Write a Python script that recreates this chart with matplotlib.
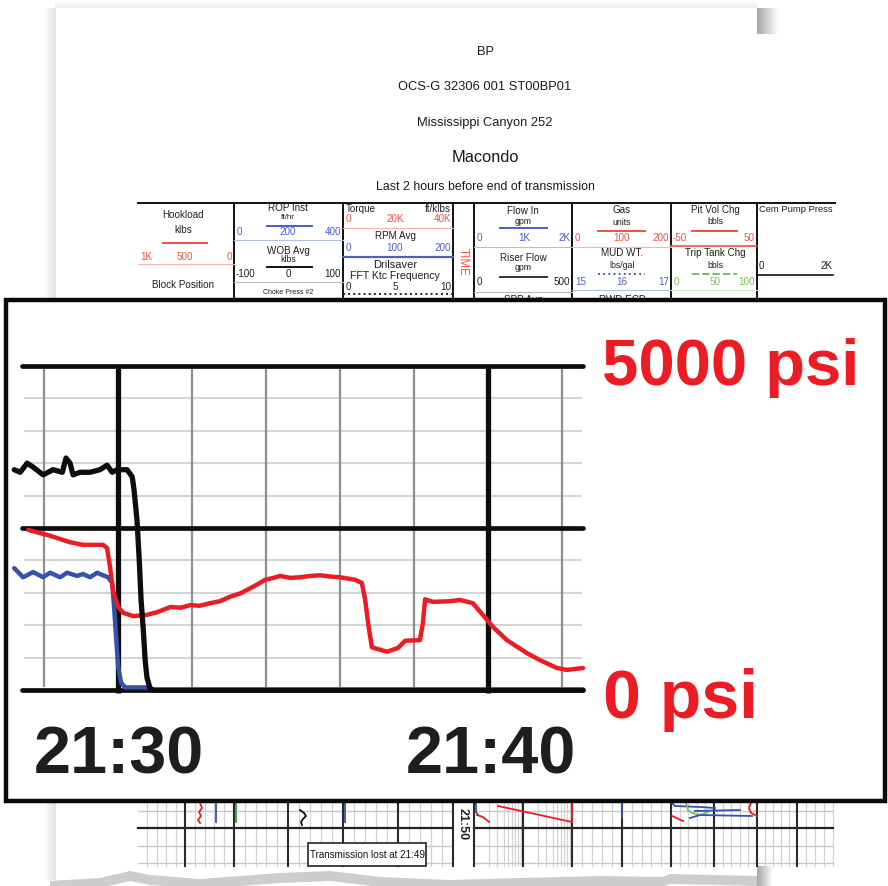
import numpy as np
import matplotlib
matplotlib.use("Agg")
import matplotlib.pyplot as plt
from matplotlib import font_manager
from matplotlib.patches import Rectangle, Polygon

W, H = 888, 886

# pressure traces (minutes after 21:30, psi)
black_t = [-2.81, -2.65, -2.46, -2.30, -2.03, -1.76, -1.51, -1.41, -1.30, -1.22,
           -1.03, -0.76, -0.49, -0.30, -0.16, -0.03, 0.24, 0.38, 0.43, 0.51,
           0.57, 0.62, 0.68, 0.73, 0.78, 0.86, 0.95, 12.57]
black_psi = [3400, 3360, 3500, 3440, 3320, 3400, 3360, 3580, 3500, 3320,
             3360, 3360, 3400, 3470, 3360, 3400, 3400, 3290, 3090, 2620,
             2010, 1390, 930, 460, 190, 30, 0, 0]

blue_t = [-2.81, -2.57, -2.30, -2.03, -1.84, -1.57, -1.38, -1.11, -0.95, -0.76,
          -0.57, -0.41, -0.27, -0.16, -0.11, -0.05, 0.00, 0.08, 0.19, 0.86]
blue_psi = [1880, 1740, 1820, 1740, 1810, 1740, 1810, 1760, 1790, 1740,
            1810, 1770, 1740, 1650, 1280, 770, 360, 110, 40, 40]

red_t = [-2.43, -1.84, -1.30, -0.95, -0.41, -0.30, -0.22, -0.14, 0.00, 0.14,
         0.41, 0.78, 1.05, 1.41, 1.70, 1.95, 2.20, 2.49, 2.75, 3.03,
         3.30, 3.57, 3.80, 3.97, 4.20, 4.38, 4.65, 4.92, 5.20, 5.46,
         5.75, 6.00, 6.20, 6.41, 6.59, 6.68, 6.76, 6.86, 7.03, 7.27,
         7.57, 7.76, 8.16, 8.24, 8.30, 8.51, 8.97, 9.24, 9.59, 9.86,
         10.14, 10.51, 11.05, 11.41, 11.86, 12.14, 12.57]
red_psi = [2470, 2380, 2280, 2240, 2240, 2190, 1900, 1540, 1280, 1190,
           1140, 1160, 1200, 1280, 1270, 1310, 1300, 1340, 1370, 1440,
           1490, 1570, 1640, 1700, 1730, 1760, 1730, 1740, 1760, 1770,
           1750, 1740, 1720, 1700, 1650, 1390, 1030, 660, 630, 590,
           650, 760, 770, 1030, 1400, 1360, 1370, 1390, 1340, 1160,
           970, 770, 570, 460, 340, 310, 340]

minute_grid = [-2, 2, 4, 6, 8, 12]
minute_major = [0, 10]
psi_minor = [500, 1000, 1500, 2000, 3000, 3500, 4000, 4500]
psi_major = [0, 2500, 5000]
time_labels = ["21:30", "21:40"]
psi_labels = ["5000 psi", "0 psi"]

RED = "#ec1c24"
BLUE = "#3553a8"
HRED = "#f0523f"
HBLUE = "#4b5fc4"
HGREEN = "#72c255"

names = {f.name for f in font_manager.fontManager.ttflist}
NARROW = "Liberation Sans Narrow" if "Liberation Sans Narrow" in names else "Liberation Sans"
SQUEEZE = 1.0 if NARROW == "Liberation Sans Narrow" else 0.84
plt.rcParams["font.family"] = ["Liberation Sans", "DejaVu Sans"]


def px_box(x0, y0, x1, y1):
    return [x0 / W, 1 - y1 / H, (x1 - x0) / W, (y1 - y0) / H]


fig = plt.figure(figsize=(8.88, 8.86), dpi=100)
page = fig.add_axes([0, 0, 1, 1])
page.axis("off")


def shade(x0, x1, y0, y1, a0, a1, horizontal=True, z=1):
    n = 40
    ramp = np.linspace(a0, a1, n)
    if horizontal:
        rgba = np.zeros((1, n, 4))
        rgba[0, :, 3] = ramp
    else:
        rgba = np.zeros((n, 1, 4))
        rgba[:, 0, 3] = ramp
    rgba[..., :3] = 0.3
    page.imshow(rgba, extent=(x0, x1, y1, y0), aspect="auto",
                interpolation="bilinear", zorder=z)


# paper edges and shadows
shade(44, 55, 8, 880, 0.0, 0.16)
shade(55, 757, 1, 8, 0.0, 0.10, horizontal=False)
shade(757, 778, 8, 34, 0.5, 0.0)
shade(757, 772, 866, 886, 0.5, 0.0)
edge_x = [50, 100, 130, 150, 200, 280, 330, 380, 450, 520, 600, 662, 670, 757]
edge_y = [881, 878, 871, 875, 879, 873, 871, 877, 880, 878, 876, 877, 874, 876]
band = list(zip(edge_x, edge_y)) + list(zip(edge_x[::-1], [y + 10 for y in edge_y[::-1]]))
page.add_patch(Polygon(band, closed=True, fc="#b8b8b8", ec="none", alpha=0.7, zorder=1))

# title block
titles = [("BP", 52, 11), ("OCS-G 32306 001 ST00BP01", 87, 11),
          ("Mississippi Canyon 252", 123, 11), ("Macondo", 157, 14),
          ("Last 2 hours before end of transmission", 187, 10.6)]
for txt, y, s in titles:
    page.text(485, y, txt, ha="center", va="center", fontsize=s * SQUEEZE,
              family=NARROW, color="#1a1a1a")

# header table
page.plot([138, 835], [203, 203], color="#111", lw=1.4, zorder=2)
for x in [234, 343, 453, 474, 572, 671, 757]:
    page.plot([x, x], [203, 302], color="#111", lw=1.4, zorder=2)

rules = [
    (163, 207, 243, HRED, 1.4, "-"), (138, 234, 264, "#f6b3ab", 0.8, "-"),
    (267, 312, 226, HBLUE, 1.4, "-"), (234, 343, 240, "#b3bce6", 0.8, "-"),
    (267, 312, 267, "#111", 1.4, "-"), (234, 343, 282, "#bbbbbb", 0.8, "-"),
    (343, 453, 228, "#f6b3ab", 0.8, "-"), (343, 453, 257, HBLUE, 1.6, "-"),
    (343, 453, 294, "#222", 1.4, ":"),
    (500, 547, 228, HBLUE, 1.4, "-"), (474, 572, 247, "#b3bce6", 0.8, "-"),
    (500, 547, 277, "#333", 1.4, "-"), (474, 572, 292, "#bbbbbb", 0.8, "-"),
    (598, 645, 231, HRED, 1.4, "-"), (572, 671, 247, "#f6b3ab", 0.8, "-"),
    (598, 645, 274, HBLUE, 1.4, ":"), (572, 671, 290, "#b3bce6", 0.8, "-"),
    (692, 737, 231, HRED, 1.4, "-"), (671, 757, 246, HRED, 1.2, "-"),
    (692, 737, 274, HGREEN, 1.4, "--"), (671, 757, 290, "#cfe8c4", 0.8, "-"),
    (757, 833, 275, "#111", 1.2, "-"),
]
for x0, x1, y, c, lw, ls in rules:
    page.plot([x0, x1], [y, y], color=c, lw=lw, ls=ls, zorder=2)

K = "#1e1e1e"
cells = [
    ("Hookload", 183, 215, K, 8.5, "center"), ("klbs", 183, 230, K, 8.5, "center"),
    ("1K", 140, 257, HRED, 8.5, "left"), ("500", 185, 257, HRED, 8.5, "center"),
    ("0", 232, 257, HRED, 8.5, "right"), ("Block Position", 183, 285, K, 8.5, "center"),
    ("ROP Inst", 288, 208, K, 8.5, "center"), ("ft/hr", 288, 217, K, 7, "center"),
    ("0", 237, 232, HBLUE, 8.5, "left"), ("200", 288, 232, HBLUE, 8.5, "center"),
    ("400", 341, 232, HBLUE, 8.5, "right"),
    ("WOB Avg", 288, 251, K, 8.5, "center"), ("klbs", 288, 260, K, 7.5, "center"),
    ("-100", 236, 274, K, 8.5, "left"), ("0", 288, 274, K, 8.5, "center"),
    ("100", 341, 274, K, 8.5, "right"), ("Choke Press #2", 288, 293, K, 6, "center"),
    ("Torque", 346, 209, K, 8.5, "left"), ("ft/klbs", 451, 209, K, 8.5, "right"),
    ("0", 346, 219, HRED, 8.5, "left"), ("20K", 395, 219, HRED, 8.5, "center"),
    ("40K", 451, 219, HRED, 8.5, "right"), ("RPM Avg", 395, 236, K, 8.5, "center"),
    ("0", 346, 248, HBLUE, 8.5, "left"), ("100", 395, 248, HBLUE, 8.5, "center"),
    ("200", 451, 248, HBLUE, 8.5, "right"), ("Drilsaver", 395, 265, K, 9.5, "center"),
    ("FFT Ktc Frequency", 395, 276, K, 9, "center"),
    ("0", 346, 287, K, 8.5, "left"), ("5", 395, 287, K, 8.5, "center"),
    ("10", 451, 287, K, 8.5, "right"),
    ("Flow In", 523, 211, K, 8.5, "center"), ("gpm", 523, 221, K, 7.5, "center"),
    ("0", 477, 238, HBLUE, 8.5, "left"), ("1K", 524, 238, HBLUE, 8.5, "center"),
    ("2K", 570, 238, HBLUE, 8.5, "right"), ("Riser Flow", 523, 258, K, 8.5, "center"),
    ("gpm", 523, 267, K, 7.5, "center"), ("0", 477, 282, K, 8.5, "left"),
    ("500", 570, 282, K, 8.5, "right"), ("SPP Avg", 523, 300, K, 8.5, "center"),
    ("Gas", 622, 210, K, 8.5, "center"), ("units", 622, 222, K, 7.5, "center"),
    ("0", 575, 238, HRED, 8.5, "left"), ("100", 622, 238, HRED, 8.5, "center"),
    ("200", 669, 238, HRED, 8.5, "right"), ("MUD WT.", 622, 253, K, 8.5, "center"),
    ("lbs/gal", 622, 265, K, 7.5, "center"), ("15", 575, 282, HBLUE, 8.5, "left"),
    ("16", 622, 282, HBLUE, 8.5, "center"), ("17", 669, 282, HBLUE, 8.5, "right"),
    ("RWD ECD", 622, 300, K, 8.5, "center"),
    ("Pit Vol Chg", 715, 210, K, 8.5, "center"), ("bbls", 715, 221, K, 7.5, "center"),
    ("-50", 673, 238, HRED, 8.5, "left"), ("50", 755, 238, HRED, 8.5, "right"),
    ("Trip Tank Chg", 715, 253, K, 8.5, "center"), ("bbls", 715, 265, K, 7.5, "center"),
    ("0", 674, 282, HGREEN, 8.5, "left"), ("50", 715, 282, HGREEN, 8.5, "center"),
    ("100", 755, 282, HGREEN, 8.5, "right"),
    ("Cem Pump Press", 759, 209, K, 8, "left"), ("0", 759, 266, K, 8.5, "left"),
    ("2K", 832, 266, K, 8.5, "right"),
]
for txt, x, y, c, s, ha in cells:
    page.text(x, y, txt, color=c, fontsize=s * SQUEEZE, ha=ha, va="center",
              family=NARROW, zorder=2)
page.text(463, 262, "TIME", color=HRED, fontsize=10 * SQUEEZE, rotation=270,
          ha="center", va="center", family=NARROW, zorder=2)

# lower log strip
strip_cols = [185, 234, 288, 343, 398, 453, 474, 523, 572, 622, 671, 714, 757, 797]
for a, b in zip([138] + strip_cols[:-1], strip_cols):
    if (a, b) == (453, 474):
        continue
    if a in (474, 523):
        minor = [a + (b - a) * np.log10(k) for k in range(2, 10)]
    else:
        minor = np.linspace(a, b, 6)[1:-1]
    for x in minor:
        page.plot([x, x], [803, 866], color="#d2d2d2", lw=0.9, zorder=2)
for x in np.linspace(797, 833, 5)[1:]:
    page.plot([x, x], [803, 866], color="#d2d2d2", lw=0.9, zorder=2)
for y in [811, 846, 863]:
    page.plot([138, 453], [y, y], color="#c8c8c8", lw=1.0, zorder=2)
    page.plot([474, 833], [y, y], color="#c8c8c8", lw=1.0, zorder=2)
page.plot([138, 453], [828, 828], color="#222", lw=1.6, zorder=2)
page.plot([474, 833], [828, 828], color="#222", lw=1.6, zorder=2)
for x in strip_cols:
    page.plot([x, x], [803, 866], color="#2a2a2a", lw=1.5, zorder=2)
page.text(463, 824, "21:50", rotation=270, fontsize=9, fontweight="bold",
          ha="center", va="center", family=NARROW, color="#222", zorder=3)

strip_traces = [
    ([200, 202, 199, 201, 198, 200], [803, 808, 812, 816, 820, 823], RED),
    ([216, 216], [803, 822], BLUE),
    ([236, 236], [803, 822], "#3a9a3a"),
    ([300, 304, 306, 303, 301, 302], [810, 813, 816, 819, 822, 825], "#111"),
    ([345, 345], [803, 822], BLUE),
    ([476, 476, 478], [803, 812, 815], BLUE),
    ([477, 483, 489], [815, 817, 822], RED),
    ([498, 572], [806, 822], RED),
    ([572, 572], [803, 822], RED),
    ([622, 622], [803, 818], BLUE),
    ([672, 675, 700, 715], [803, 806, 807, 808], BLUE),
    ([686, 688, 692, 700, 708], [803, 810, 813, 815, 812], HGREEN),
    ([690, 700, 752], [818, 815, 816], BLUE),
    ([695, 740], [811, 810], BLUE),
    ([672, 683], [816, 821], RED),
    ([751, 749, 751, 757], [803, 808, 813, 816], RED),
]
for xs, ys, c in strip_traces:
    page.plot(xs, ys, color=c, lw=1.3, zorder=3)

page.add_patch(Rectangle((308, 843), 118, 23, fc="white", ec="#222", lw=1.2, zorder=4))
page.text(367, 854.5, "Transmission lost at 21:49", fontsize=8.5 * SQUEEZE, ha="center",
          va="center", family=NARROW, color="#111", zorder=5)

# magnified inset frame
page.add_patch(Rectangle((6, 300), 879, 501, fc="white", ec="#0a0a0a", lw=3.2, zorder=6))
page.text(602, 385, psi_labels[0], color=RED, fontsize=47, fontweight="bold",
          ha="left", va="baseline", zorder=7)
page.text(603, 718, psi_labels[1], color=RED, fontsize=49, fontweight="bold",
          ha="left", va="baseline", zorder=7)
for txt, x in zip(time_labels, [34, 406]):
    page.text(x, 773, txt, color="#1e1e1e", fontsize=48, fontweight="bold",
              ha="left", va="baseline", zorder=7)

page.set_xlim(0, W)
page.set_ylim(H, 0)

# pressure chart
ax = fig.add_axes(px_box(22, 366, 583, 690))
ax.set_xlim(-2.6, 12.57)
ax.set_ylim(0, 5000)
ax.axis("off")
ax.hlines(psi_minor, -2.55, 12.55, color="#d4d4d4", lw=1.5, zorder=1)
ax.vlines(minute_grid, 40, 4960, color="#8f8f8f", lw=1.6, zorder=1)
ax.hlines(psi_major, -2.6, 12.57, color="#0d0d0d", lw=3.4, zorder=2,
          capstyle="round", clip_on=False)
ax.vlines(minute_major, -40, 5010, color="#0d0d0d", lw=3.8, zorder=2, clip_on=False)
ax.plot(blue_t, blue_psi, color=BLUE, lw=3.2, zorder=3, clip_on=False,
        solid_joinstyle="round", solid_capstyle="round")
ax.plot(red_t, red_psi, color=RED, lw=3.2, zorder=4, clip_on=False,
        solid_joinstyle="round", solid_capstyle="round")
ax.plot(black_t, black_psi, color="#0d0d0d", lw=3.8, zorder=5, clip_on=False,
        solid_joinstyle="round", solid_capstyle="round")

fig.savefig("out.png", dpi=100, facecolor="white")
